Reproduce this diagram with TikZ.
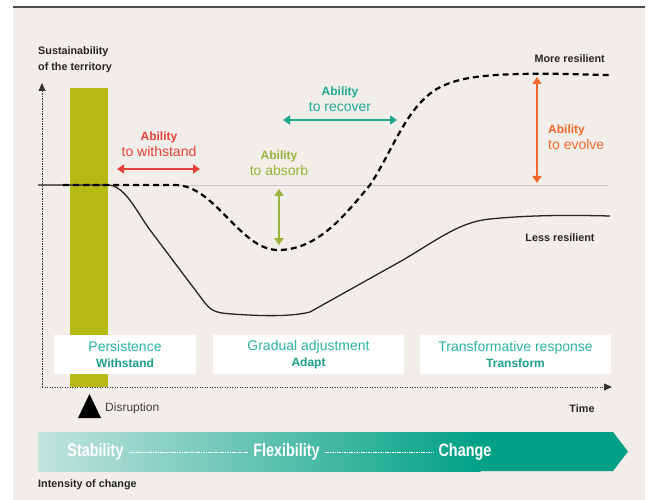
\documentclass[tikz,border=0pt]{standalone}
\usepackage{fontspec}
\setmainfont{Liberation Sans}
\newfontfamily\bandfont[FakeStretch=0.8]{Liberation Sans}
\usetikzlibrary{arrows.meta}
\definecolor{paper}{RGB}{241,237,232}
\definecolor{olivebar}{RGB}{182,184,20}
\definecolor{withred}{RGB}{227,66,59}
\definecolor{absgreen}{RGB}{152,180,58}
\definecolor{rectteal}{RGB}{30,170,145}
\definecolor{evorange}{RGB}{240,105,43}
\definecolor{boxteal}{RGB}{43,180,160}
\definecolor{boxtealdk}{RGB}{26,158,136}
\definecolor{bandlight}{RGB}{194,228,219}
\definecolor{bandteal}{RGB}{0,161,135}
\tikzset{
	smalllab/.style={font=\fontsize{10.8}{16}\selectfont\bfseries, text=black!85, inner sep=0pt},
	ability/.style={align=center, inner sep=0pt, font=\fontsize{14}{16}\selectfont},
	twohead/.style={{Triangle[length=7pt,width=9pt]}-{Triangle[length=7pt,width=9pt]}, line width=1.6pt},
	respbox/.style={fill=white, minimum width=#1, minimum height=39pt, inner sep=0pt, align=center, text=boxteal, font=\fontsize{14}{16}\selectfont},
	bandword/.style={text=white, inner sep=2pt, font=\bandfont\fontsize{18}{20}\selectfont\bfseries},
	bandrule/.style={white, line width=0.6pt, dash pattern=on 1.6pt off 0.8pt, shorten >=3pt, shorten <=3pt},
	axisline/.style={black!80, line width=0.9pt, dash pattern=on 1.2pt off 1.3pt}
}
\begin{document}
\begin{tikzpicture}[x=1pt,y=-1pt]
		
		%%Frame
		\useasboundingbox (0,0) rectangle (651,500);
		\fill[paper] (13,7) rectangle (645,500);
		\draw[black!70, line width=1.5pt] (13,7) -- (645,7);
		
		%%axis
		\coordinate (origin) at (42,387);
		\coordinate (ytop) at (42,83);
		\coordinate (xend) at (612,387);
		\draw[axisline, -{Triangle[length=8pt,width=7pt]}] (origin) -- (ytop);
		\draw[axisline, -{Triangle[length=8pt,width=7pt]}] (origin) -- (xend);
		\draw[black!22, line width=0.8pt] (38,185) -- (608,185);
		
		%%Disruption
		\fill[olivebar] (70,88) rectangle (108,387);
		\fill[black] (78,418) -- (89.5,394) -- (101,418) -- cycle;
		\node[anchor=west, inner sep=0pt, text=black!75, font=\fontsize{12}{14}\selectfont] (disrupt) at (105,408) {Disruption};
		
		%%Curves
		\draw[black!85, line width=1.3pt] (38,185) -- (108,185) .. controls (125,185) and (138,214) .. (150,230)
			-- (205,303) .. controls (212,312) and (218,313) .. (232,314)
			.. controls (260,316) and (290,317) .. (310,312) -- (403,260)
			.. controls (440,238) and (460,222) .. (490,219) .. controls (530,215) and (570,215) .. (610,216);
		\draw[black, line width=2.2pt, dash pattern=on 6pt off 4pt] (63,185) -- (175,185)
			.. controls (215,185) and (240,250) .. (278,250) .. controls (318,250) and (345,215) .. (370,185)
			.. controls (392,152) and (405,110) .. (435,90) .. controls (455,78) and (480,75) .. (520,74)
			.. controls (560,73) and (590,75) .. (610,75);
		
		\node[smalllab, anchor=west, align=left] (ylab) at (38,60) {Sustainability\\of the territory};
		\node[smalllab, anchor=east] (more) at (605,59) {More resilient};
		\node[smalllab] (less) at (560,238) {Less resilient};
		\node[smalllab] (time) at (582,409) {Time};
		
		%%Abilities
		\coordinate (wL) at (117,169);
		\coordinate (wR) at (200,169);
		\draw[twohead, withred] (wL) -- (wR);
		\node[ability, text=withred] (withstand) at (159,144) {{\fontsize{12}{16}\selectfont\bfseries Ability}\\to withstand};
		
		\coordinate (aT) at (279,189);
		\coordinate (aB) at (279,245);
		\draw[twohead, absgreen] (aT) -- (aB);
		\node[ability, text=absgreen] (absorb) at (279,163) {{\fontsize{12}{16}\selectfont\bfseries Ability}\\to absorb};
		
		\coordinate (rL) at (283,120);
		\coordinate (rR) at (397,120);
		\draw[twohead, rectteal] (rL) -- (rR);
		\node[ability, text=rectteal] (recover) at (340,99) {{\fontsize{12}{16}\selectfont\bfseries Ability}\\to recover};
		
		\coordinate (eT) at (537,77);
		\coordinate (eB) at (537,183);
		\draw[twohead, evorange] (eT) -- (eB);
		\node[ability, text=evorange, anchor=west, align=left] (evolve) at (548,137) {{\fontsize{12}{16}\selectfont\bfseries Ability}\\to evolve};
		
		%%Responses
		\node[respbox=142pt] (persist) at (125,354.5) {Persistence\\{\color{boxtealdk}\fontsize{12}{16}\selectfont\bfseries Withstand}};
		\node[respbox=191pt] (gradual) at (308.5,354.5) {Gradual adjustment\\{\color{boxtealdk}\fontsize{12}{16}\selectfont\bfseries Adapt}};
		\node[respbox=191pt] (transf) at (515.5,354.5) {Transformative response\\{\color{boxtealdk}\fontsize{12}{16}\selectfont\bfseries Transform}};
		
		%%Band
		\shade[left color=bandlight, right color=bandteal] (38,432) rectangle (480.5,471);
		\fill[bandteal] (480,432) -- (613,432) -- (628,451.5) -- (613,471) -- (480,471) -- cycle;
		\node[bandword] (stab) at (95.5,452) {Stability};
		\node[bandword] (flex) at (286.5,452) {Flexibility};
		\node[bandword] (chg) at (465,452) {Change};
		\draw[bandrule] (stab) -- (flex);
		\draw[bandrule] (flex) -- (chg);
		\node[smalllab, anchor=west] (intens) at (38,485) {Intensity of change};
		
\end{tikzpicture}
\end{document}
